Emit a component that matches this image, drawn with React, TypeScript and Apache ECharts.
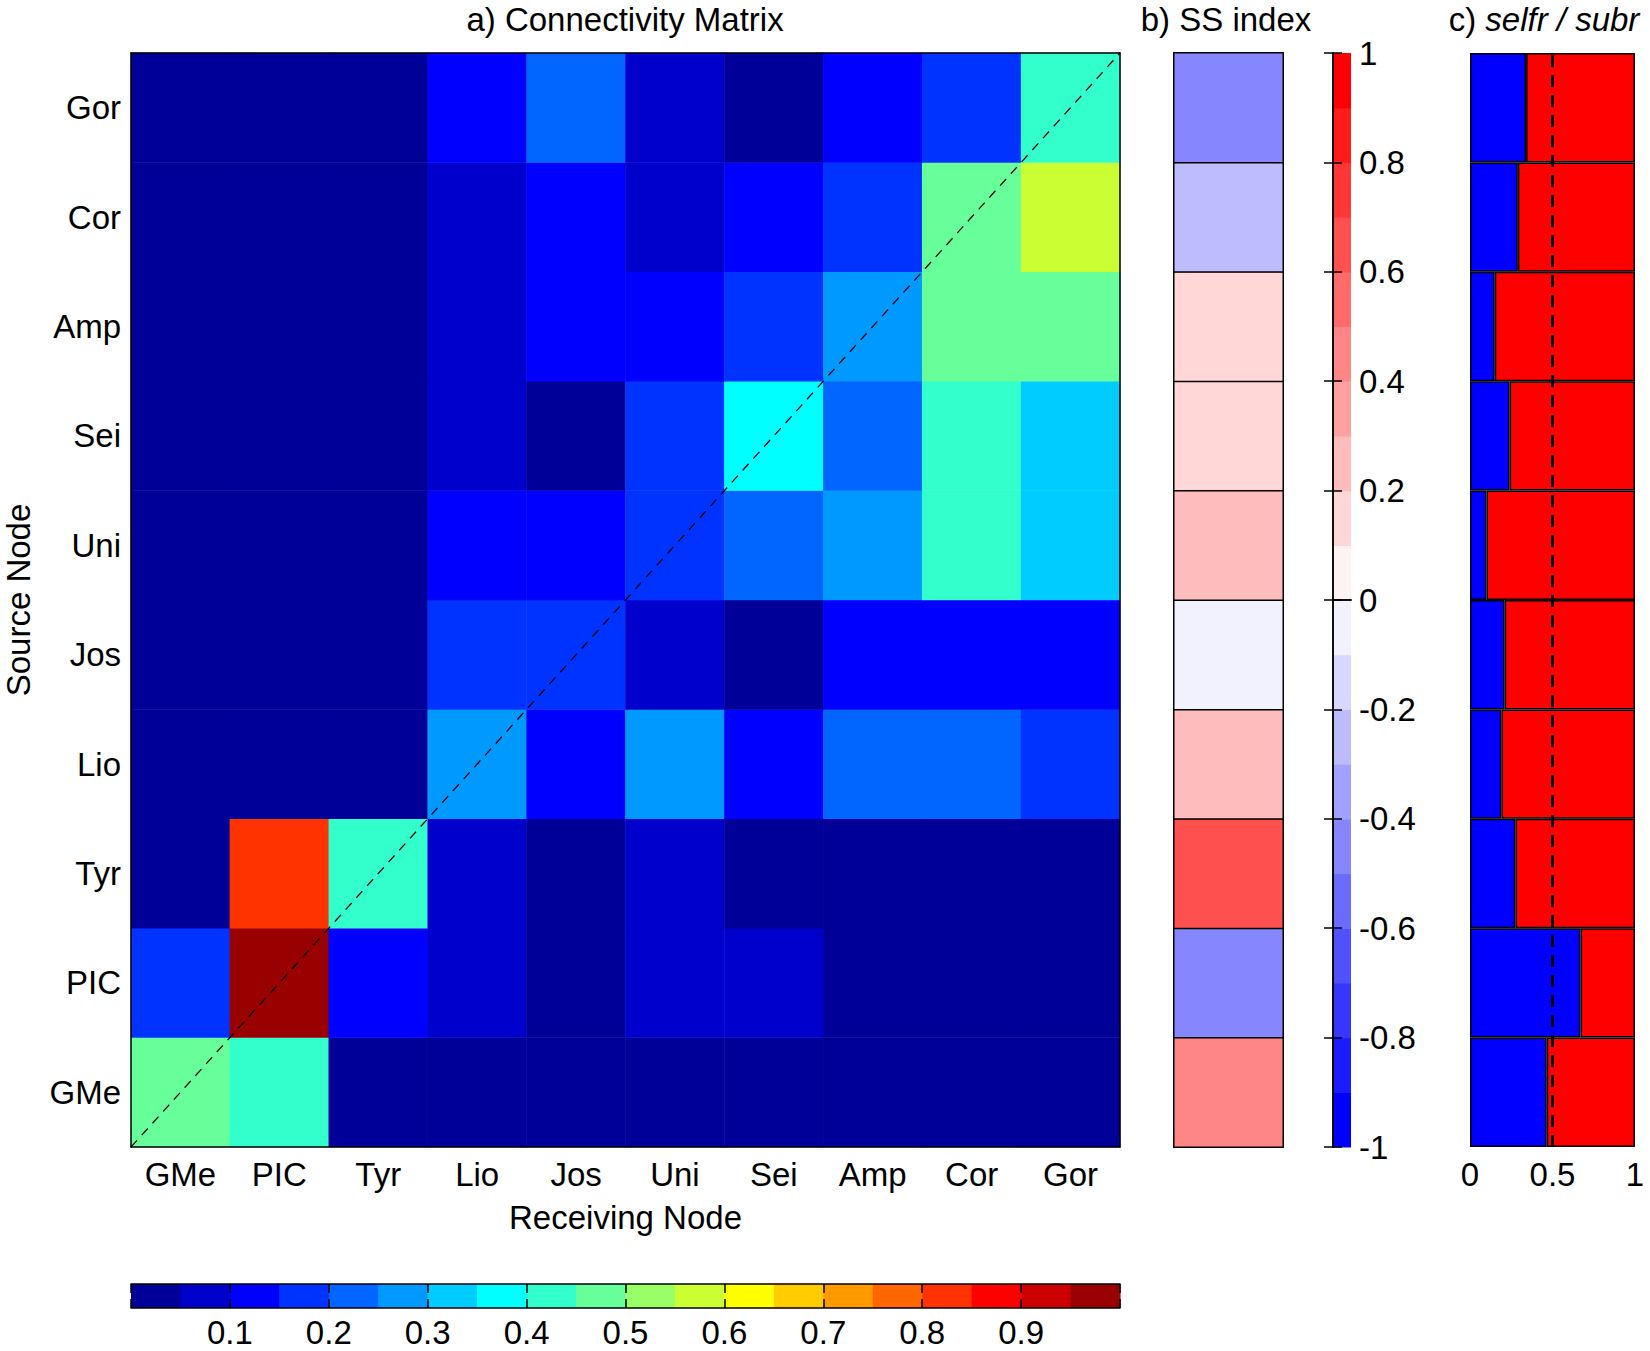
import React, { useEffect, useRef } from 'react';
import * as echarts from 'echarts';

// Node names (same order on both axes; first one at the bottom / left)
const NODES = ['GMe', 'PIC', 'Tyr', 'Lio', 'Jos', 'Uni', 'Sei', 'Amp', 'Cor', 'Gor'];

// a) Connectivity matrix: one array per source node, values per receiving node (NODES order)
const CONN_GME = [0.47, 0.43, 0.02, 0.01, 0.01, 0.01, 0.01, 0.01, 0.01, 0.01];
const CONN_PIC = [0.18, 0.97, 0.12, 0.07, 0.03, 0.07, 0.06, 0.02, 0.02, 0.01];
const CONN_TYR = [0.02, 0.82, 0.42, 0.07, 0.03, 0.06, 0.02, 0.02, 0.01, 0.01];
const CONN_LIO = [0.01, 0.01, 0.02, 0.28, 0.13, 0.27, 0.12, 0.22, 0.23, 0.18];
const CONN_JOS = [0.01, 0.01, 0.01, 0.17, 0.18, 0.08, 0.04, 0.13, 0.12, 0.13];
const CONN_UNI = [0.01, 0.01, 0.02, 0.12, 0.13, 0.18, 0.22, 0.28, 0.43, 0.33];
const CONN_SEI = [0.01, 0.01, 0.01, 0.07, 0.03, 0.17, 0.38, 0.23, 0.42, 0.32];
const CONN_AMP = [0.01, 0.01, 0.01, 0.08, 0.12, 0.13, 0.18, 0.27, 0.48, 0.47];
const CONN_COR = [0.01, 0.01, 0.01, 0.07, 0.12, 0.08, 0.13, 0.17, 0.47, 0.57];
const CONN_GOR = [0.01, 0.01, 0.01, 0.12, 0.23, 0.08, 0.03, 0.13, 0.18, 0.42];
const CONN = [CONN_GME, CONN_PIC, CONN_TYR, CONN_LIO, CONN_JOS, CONN_UNI, CONN_SEI, CONN_AMP, CONN_COR, CONN_GOR];

// b) SS index per node (NODES order)
const SS_INDEX = [0.44, -0.46, 0.63, 0.24, -0.04, 0.26, 0.14, 0.16, -0.27, -0.44];

// c) selfr / subr fractions per node (NODES order)
const SELFR = [0.465, 0.67, 0.275, 0.19, 0.21, 0.1, 0.24, 0.15, 0.29, 0.34];
const SUBR = [0.535, 0.33, 0.725, 0.81, 0.79, 0.9, 0.76, 0.85, 0.71, 0.66];
const REF_LINE = 0.5;

// diagonal reference line (normalised matrix coordinates)
const DIAG = [[0, 0], [1, 1]];

// colour tables
const JET20 = ['#000099', '#0000CC', '#0000FF', '#0033FF', '#0066FF', '#0099FF', '#00CCFF', '#00FFFF', '#33FFCC', '#66FF99',
  '#99FF66', '#CCFF33', '#FFFF00', '#FFCC00', '#FF9900', '#FF6600', '#FF3300', '#FF0000', '#CC0000', '#990000'];
const BWR20 = ['#0000FF', '#1B1BFF', '#3636FF', '#5050FF', '#6B6BFF', '#8686FF', '#A1A1FF', '#BCBCFF', '#D7D7FF', '#F2F2FF',
  '#FFF2F2', '#FFD7D7', '#FFBCBC', '#FFA1A1', '#FF8686', '#FF6B6B', '#FF5050', '#FF3636', '#FF1B1B', '#FF0000'];

// colour-bar bins [lo, hi, colourIndex]
const JET_BINS = JET20.map((_, i) => [i / 20, (i + 1) / 20, i]);
const BWR_BINS = BWR20.map((_, i) => [-1 + i * 0.1, -1 + (i + 1) * 0.1, i]);

const FONT = '"Liberation Sans", Arial, Helvetica, sans-serif';
const FS = 33;
const TXT = { fontFamily: FONT, fontSize: FS, color: '#000' };
const BLACK_LINE = { show: true, lineStyle: { color: '#000', width: 1.5 } };

const fmt1 = (v: number) => String(Math.round(v * 10) / 10);

function buildOption() {
  const connData: number[][] = [];
  CONN.forEach((row, s) => row.forEach((v, r) => connData.push([r, s, v])));
  const ssData = SS_INDEX.map((v, i) => [0, i, v]);

  const G_MAT = { left: 131, top: 53, width: 989, height: 1094, outerBoundsMode: 'none', containLabel: false };

  return {
    animation: false,
    backgroundColor: '#fff',
    textStyle: { fontFamily: FONT },
    graphic: [
      { type: 'text', x: 625, y: 19, style: { text: 'a) Connectivity Matrix', fontSize: FS, fontFamily: FONT, fill: '#000', align: 'center', verticalAlign: 'middle' } },
      { type: 'text', x: 1226, y: 19, style: { text: 'b) SS index', fontSize: FS, fontFamily: FONT, fill: '#000', align: 'center', verticalAlign: 'middle' } },
      {
        type: 'text', x: 1544, y: 19,
        style: {
          text: '{n|c) }{i|selfr / subr}', align: 'center', verticalAlign: 'middle', fill: '#000',
          rich: {
            n: { fontSize: FS, fontFamily: FONT, fill: '#000' },
            i: { fontSize: FS, fontFamily: FONT, fontStyle: 'italic', fill: '#000' },
          },
        },
      },
    ],
    grid: [
      G_MAT,
      { ...G_MAT },
      { left: 1174, top: 53, width: 109, height: 1094, outerBoundsMode: 'none', containLabel: false },
      { left: 1333, top: 53, width: 18, height: 1094, outerBoundsMode: 'none', containLabel: false },
      { left: 1470, top: 53, width: 165, height: 1094, outerBoundsMode: 'none', containLabel: false },
      { left: 131, top: 1284, width: 989, height: 24, outerBoundsMode: 'none', containLabel: false },
    ],
    xAxis: [
      {
        gridIndex: 0, type: 'category', data: NODES, position: 'bottom', z: 10,
        axisLine: BLACK_LINE, axisTick: { show: false }, splitLine: { show: false },
        axisLabel: { ...TXT, margin: 11 },
        name: 'Receiving Node', nameLocation: 'middle', nameGap: 54, nameTextStyle: { ...TXT },
      },
      {
        gridIndex: 0, type: 'category', data: NODES, position: 'top', z: 10,
        axisLine: BLACK_LINE, axisTick: { show: false }, axisLabel: { show: false }, splitLine: { show: false },
      },
      { gridIndex: 1, type: 'value', min: 0, max: 1, show: false },
      { gridIndex: 2, type: 'category', data: ['SS'], show: false },
      {
        gridIndex: 3, type: 'value', min: 0, max: 1, position: 'bottom', z: 10,
        axisLine: BLACK_LINE, axisTick: { show: false }, axisLabel: { show: false }, splitLine: { show: false },
      },
      {
        gridIndex: 3, type: 'value', min: 0, max: 1, position: 'top', z: 10,
        axisLine: BLACK_LINE, axisTick: { show: false }, axisLabel: { show: false }, splitLine: { show: false },
      },
      {
        gridIndex: 4, type: 'value', min: 0, max: 1, interval: 0.5,
        axisLine: { show: false }, axisTick: { show: false }, splitLine: { show: false },
        axisLabel: { ...TXT, margin: 11, formatter: (v: number) => String(v) },
      },
      {
        gridIndex: 5, type: 'value', min: 0, max: 1, interval: 0.1, position: 'bottom', z: 10,
        axisLine: BLACK_LINE, axisTick: { show: true, inside: true, length: 9, lineStyle: { color: '#000', width: 1.5 } },
        splitLine: { show: false },
        axisLabel: { ...TXT, lineHeight: 33, margin: 8, formatter: (v: number) => (v < 0.01 || v > 0.99 ? '' : fmt1(v)) },
      },
      {
        gridIndex: 5, type: 'value', min: 0, max: 1, interval: 0.1, position: 'top', z: 10,
        axisLine: BLACK_LINE, axisTick: { show: true, inside: true, length: 9, lineStyle: { color: '#000', width: 1.5 } },
        splitLine: { show: false }, axisLabel: { show: false },
      },
    ],
    yAxis: [
      {
        gridIndex: 0, type: 'category', data: NODES, z: 10,
        axisLine: BLACK_LINE, axisTick: { show: false }, splitLine: { show: false },
        axisLabel: { ...TXT, margin: 10 },
        name: 'Source Node', nameLocation: 'middle', nameGap: 96, nameTextStyle: { ...TXT, lineHeight: 33 },
      },
      {
        gridIndex: 0, type: 'category', data: NODES, position: 'right', z: 10,
        axisLine: BLACK_LINE, axisTick: { show: false }, axisLabel: { show: false }, splitLine: { show: false },
      },
      { gridIndex: 1, type: 'value', min: 0, max: 1, show: false },
      { gridIndex: 2, type: 'category', data: NODES, show: false },
      {
        gridIndex: 3, type: 'value', min: -1, max: 1, interval: 0.2, position: 'right', z: 10,
        axisLine: BLACK_LINE, axisTick: { show: true, inside: true, length: 9, lineStyle: { color: '#000', width: 1.5 } },
        splitLine: { show: false },
        axisLabel: { ...TXT, margin: 8, formatter: fmt1 },
      },
      {
        gridIndex: 3, type: 'value', min: -1, max: 1, interval: 0.2, position: 'left', z: 10,
        axisLine: BLACK_LINE, axisTick: { show: true, inside: true, length: 9, lineStyle: { color: '#000', width: 1.5 } },
        splitLine: { show: false }, axisLabel: { show: false },
      },
      { gridIndex: 4, type: 'category', data: NODES, show: false },
      { gridIndex: 5, type: 'value', min: 0, max: 1, show: false },
    ],
    visualMap: [
      {
        type: 'piecewise', show: false, seriesIndex: 0, dimension: 2,
        pieces: JET20.map((c, i) => ({ gte: i / 20, lt: i === 19 ? 1.001 : (i + 1) / 20, color: c })),
      },
      {
        type: 'piecewise', show: false, seriesIndex: 2, dimension: 2,
        pieces: BWR20.map((c, i) => ({ gte: -1 + i * 0.1 - 1e-9, lt: i === 19 ? 1.001 : -1 + (i + 1) * 0.1 - 1e-9, color: c })),
      },
    ],
    series: [
      {
        type: 'heatmap', xAxisIndex: 0, yAxisIndex: 0, data: connData,
        itemStyle: { borderWidth: 0 }, emphasis: { disabled: true }, silent: true,
      },
      {
        type: 'line', xAxisIndex: 2, yAxisIndex: 2, data: DIAG, symbol: 'none', z: 6, silent: true,
        lineStyle: { color: '#000', width: 1.3, type: [9, 7] },
      },
      {
        type: 'heatmap', xAxisIndex: 3, yAxisIndex: 3, data: ssData,
        itemStyle: { borderColor: '#000', borderWidth: 1.5 }, emphasis: { disabled: true }, silent: true,
      },
      {
        type: 'custom', xAxisIndex: 4, yAxisIndex: 4, data: BWR_BINS, silent: true,
        renderItem: (_p: any, api: any) => {
          const a = api.coord([0, api.value(0)]);
          const b = api.coord([1, api.value(1)]);
          return {
            type: 'rect',
            shape: { x: a[0], y: b[1], width: b[0] - a[0], height: a[1] - b[1] + 0.6 },
            style: { fill: BWR20[api.value(2)] },
          };
        },
      },
      {
        name: 'selfr', type: 'bar', xAxisIndex: 6, yAxisIndex: 6, stack: 'c', data: SELFR,
        barCategoryGap: '0%', itemStyle: { color: '#0000FF', borderColor: '#000', borderWidth: 1.5 }, silent: true,
      },
      {
        name: 'subr', type: 'bar', xAxisIndex: 6, yAxisIndex: 6, stack: 'c', data: SUBR,
        barCategoryGap: '0%', itemStyle: { color: '#FF0000', borderColor: '#000', borderWidth: 1.5 }, silent: true,
        markLine: {
          silent: true, symbol: ['none', 'none'], label: { show: false },
          lineStyle: { color: '#000', width: 3, type: [12, 8] },
          data: [{ xAxis: REF_LINE }],
        },
      },
      {
        type: 'custom', xAxisIndex: 7, yAxisIndex: 7, data: JET_BINS, silent: true,
        renderItem: (_p: any, api: any) => {
          const a = api.coord([api.value(0), 0]);
          const b = api.coord([api.value(1), 1]);
          return {
            type: 'rect',
            shape: { x: a[0], y: b[1], width: b[0] - a[0] + 0.6, height: a[1] - b[1] },
            style: { fill: JET20[api.value(2)] },
          };
        },
      },
    ],
  };
}

export default function App() {
  const ref = useRef<HTMLDivElement>(null);
  useEffect(() => {
    const chart = echarts.init(ref.current as HTMLDivElement, null, { renderer: 'svg' });
    chart.setOption(buildOption() as any);
    return () => chart.dispose();
  }, []);
  return (
    <div
      ref={ref}
      style={{ position: 'fixed', left: 0, top: 0, width: 1650, height: 1351, background: '#fff' }}
    />
  );
}
